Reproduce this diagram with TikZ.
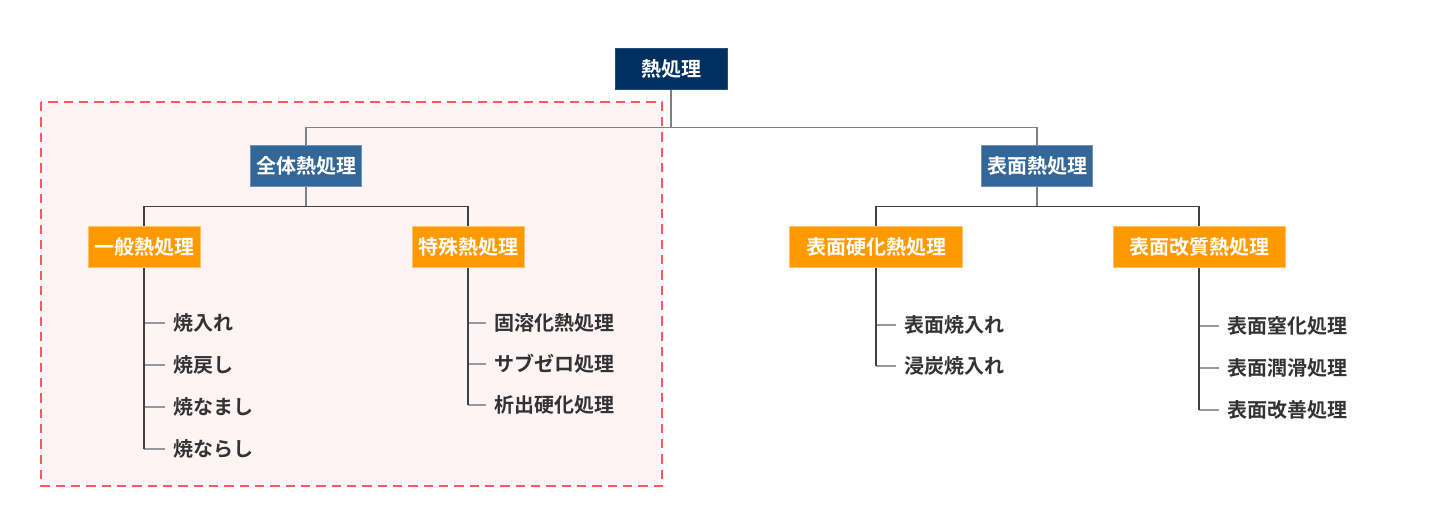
\documentclass[tikz,border=0pt]{standalone}
\usepackage{fontspec}
\usepackage{tikz}
\usetikzlibrary{positioning,calc,backgrounds}
\newfontfamily\jp{Noto Sans CJK JP Bold}
\definecolor{navy}{RGB}{0,48,96}
\definecolor{steel}{RGB}{51,102,153}
\definecolor{amber}{RGB}{255,153,0}
\definecolor{blush}{RGB}{255,244,245}
\definecolor{coral}{RGB}{255,88,94}
\definecolor{ink}{RGB}{51,51,51}
\tikzset{
  box/.style={rectangle, inner sep=0pt, minimum height=30.75pt, text=white,
    font=\jp\fontsize{15}{18}\selectfont},
  top/.style={box, fill=navy, draw=steel!60!navy, minimum width=84pt},
  mid/.style={box, fill=steel, draw=steel!70!white, minimum width=83.25pt},
  sub/.style={box, fill=amber, draw=amber!60!white, minimum width=84pt},
  leaf/.style={anchor=west, inner xsep=6pt, inner ysep=2pt, text=ink,
    font=\jp\fontsize{15}{18}\selectfont},
  % 接続線
  link/.style={draw=black!50, line width=0.9pt},
  stem/.style={draw=black!75, line width=0.9pt},
  twig/.style={draw=black!40, line width=1.2pt},
  zone/.style={draw=coral, fill=blush, line width=1.9pt, dash pattern=on 7pt off 4.5pt}
}
\begin{document}
\begin{tikzpicture}[x=0.75pt, y=-0.75pt]
  \useasboundingbox (0,0) rectangle (1436,514);
  % 全体熱処理の範囲
  \draw[zone] (41,102) rectangle (662,486);

  \node[top] (root) at (671,69) {熱処理};
  \node[mid] (zentai) at (306,166) {全体熱処理};
  \node[mid] (hyomen) at (1037,166) {表面熱処理};
  \node[sub] (ippan) at (144,247) {一般熱処理};
  \node[sub] (tokushu) at (468,247) {特殊熱処理};
  \node[sub, minimum width=129.75pt] (koka) at (876,247) {表面硬化熱処理};
  \node[sub, minimum width=129pt] (kaishitsu) at (1199,247) {表面改質熱処理};

  \coordinate (j0) at ($(root.south)+(0,38)$);
  \draw[link] (root.south) -- (j0);
  \draw[link] (j0) -| (zentai.north);
  \draw[link] (j0) -| (hyomen.north);
  \coordinate (j1) at ($(zentai.south)+(0,20)$);
  \draw[link] (zentai.south) -- (j1);
  \draw[stem] (j1) -| (ippan.north);
  \draw[stem] (j1) -| (tokushu.north);
  \coordinate (j2) at ($(hyomen.south)+(0,20)$);
  \draw[link] (hyomen.south) -- (j2);
  \draw[stem] (j2) -| (koka.north);
  \draw[stem] (j2) -| (kaishitsu.north);

  % 各処理の項目
  \foreach \t [count=\i] in {焼入れ,焼戻し,焼なまし,焼ならし}{
    \node[leaf] (ip\i) at (165,281+42*\i) {\t};
    \draw[twig] (ippan.south |- ip\i.west) -- (ip\i.west);
  }
  \draw[stem] (ippan.south) -- (ippan.south |- ip4.west);
  \foreach \t [count=\i] in {固溶化熱処理,サブゼロ処理,析出硬化処理}{
    \node[leaf] (tk\i) at (486,282+41*\i) {\t};
    \draw[twig] (tokushu.south |- tk\i.west) -- (tk\i.west);
  }
  \draw[stem] (tokushu.south) -- (tokushu.south |- tk3.west);
  \foreach \t [count=\i] in {表面焼入れ,浸炭焼入れ}{
    \node[leaf] (hk\i) at (896,284+41*\i) {\t};
    \draw[twig] (koka.south |- hk\i.west) -- (hk\i.west);
  }
  \draw[stem] (koka.south) -- (koka.south |- hk2.west);
  \foreach \t [count=\i] in {表面窒化処理,表面潤滑処理,表面改善処理}{
    \node[leaf] (ks\i) at (1219,284+42*\i) {\t};
    \draw[twig] (kaishitsu.south |- ks\i.west) -- (ks\i.west);
  }
  \draw[stem] (kaishitsu.south) -- (kaishitsu.south |- ks3.west);
\end{tikzpicture}
\end{document}
